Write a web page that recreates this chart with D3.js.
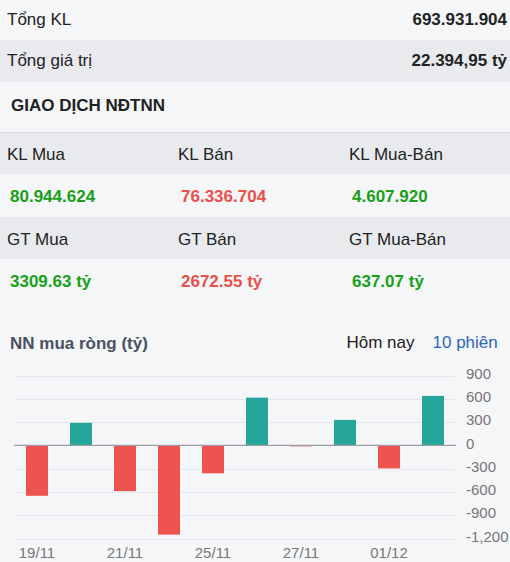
<!DOCTYPE html>
<html><head><meta charset="utf-8">
<script src="https://cdn.jsdelivr.net/npm/d3@7"></script>
<style>
html,body{margin:0;padding:0;background:#f5f6f8;}
svg{display:block;font-family:"Liberation Sans",Arial,sans-serif;}
</style></head>
<body>
<svg id="c" width="510" height="562"></svg>
<script>
// ---- data ----
const summaryLabels = ["Tổng KL", "Tổng giá trị"];
const summaryValues = ["693.931.904", "22.394,95 tỷ"];
const sectionTitle = "GIAO DỊCH NĐTNN";
const volLabels = ["KL Mua", "KL Bán", "KL Mua-Bán"];
const volValues = ["80.944.624", "76.336.704", "4.607.920"];
const valLabels = ["GT Mua", "GT Bán", "GT Mua-Bán"];
const valValues = ["3309.63 tỷ", "2672.55 tỷ", "637.07 tỷ"];
const valueSigns = ["up", "down", "up"];
const chartTitle = "NN mua ròng (tỷ)";
const tabLabels = ["Hôm nay", "10 phiên"];
const dates = ["19/11","20/11","21/11","24/11","25/11","26/11","27/11","28/11","01/12","02/12"];
const netBuy = [-650, 290, -590, -1150, -360, 615, -10, 328, -297, 637.07];
const yTicks = [900, 600, 300, 0, -300, -600, -900, -1200];
const xTickDates = ["19/11","21/11","25/11","27/11","01/12"];

// ---- styles ----
const C = {light:"#f5f6f8", gray:"#e8eaee", text:"#222", green:"#18a018", red:"#e8504a",
  barUp:"#26a69a", barDown:"#ef5350", grid:"#e3e6ea", zero:"#9a9ea4", tick:"#777", title:"#4a5260", blue:"#2e64b8"};

const svg = d3.select("#c");

// row backgrounds
const rows = [
  {y:0, h:40, fill:C.light},
  {y:40, h:42, fill:C.gray},
  {y:82, h:50, fill:C.light},
  {y:133, h:41, fill:C.gray},
  {y:174, h:43, fill:C.light},
  {y:217, h:42, fill:C.gray},
  {y:259, h:303, fill:C.light}
];
svg.selectAll("rect.row").data(rows).join("rect").attr("class","row")
  .attr("x",0).attr("width",510).attr("y",d=>d.y).attr("height",d=>d.h).attr("fill",d=>d.fill);
svg.append("line").attr("x1",0).attr("x2",510).attr("y1",132.5).attr("y2",132.5)
  .attr("stroke","#d6d9de").attr("stroke-width",1);

// summary rows
const sumY = [25, 66];
svg.selectAll("text.sl").data(summaryLabels).join("text").attr("class","sl")
  .attr("x",7).attr("y",(d,i)=>sumY[i]).attr("font-size",17).attr("fill",C.text).text(d=>d);
svg.selectAll("text.sv").data(summaryValues).join("text").attr("class","sv")
  .attr("x",507).attr("y",(d,i)=>sumY[i]).attr("text-anchor","end").attr("font-size",17)
  .attr("font-weight","bold").attr("fill",C.text).text(d=>d);
svg.append("text").attr("x",11).attr("y",111).attr("font-size",17).attr("font-weight","bold")
  .attr("fill",C.text).text(sectionTitle);

// grid table
const colX = [7, 178, 349];
function labelRow(arr, y){
  svg.append("g").selectAll("text").data(arr).join("text")
    .attr("x",(d,i)=>colX[i]).attr("y",y).attr("font-size",17).attr("fill",C.text).text(d=>d);
}
function valueRow(arr, y){
  svg.append("g").selectAll("text").data(arr).join("text")
    .attr("x",(d,i)=>colX[i]+3).attr("y",y).attr("font-size",17).attr("font-weight","bold")
    .attr("fill",(d,i)=>valueSigns[i]==="up"?C.green:C.red).text(d=>d);
}
labelRow(volLabels, 159.5);
valueRow(volValues, 201.5);
labelRow(valLabels, 245);
valueRow(valValues, 286.5);

// chart header
svg.append("text").attr("x",10).attr("y",349).attr("font-size",17).attr("font-weight","bold")
  .attr("fill",C.title).text(chartTitle);
svg.append("text").attr("x",346.5).attr("y",348).attr("font-size",17).attr("fill",C.text).text(tabLabels[0]);
svg.append("text").attr("x",432.5).attr("y",348).attr("font-size",17).attr("fill",C.blue).text(tabLabels[1]);

// scales
const x = d3.scaleBand().domain(dates).range([15,455]).paddingInner(0.5).paddingOuter(0.25);
const y = d3.scaleLinear().domain([-1200, 900]).range([538.5, 375.5]);
const fmt = d3.formatLocale({decimal:".", thousands:",", grouping:[3], currency:["",""], minus:"-"}).format(",");

// gridlines
const g = svg.append("g");
g.selectAll("line.grid").data(yTicks.filter(t=>t!==0)).join("line").attr("class","grid")
  .attr("x1",15).attr("x2",455).attr("y1",d=>Math.round(y(d))+0.5).attr("y2",d=>Math.round(y(d))+0.5)
  .attr("stroke",C.grid).attr("stroke-width",1);

// y axis labels (right)
const yAxis = d3.axisRight(y).tickValues(yTicks).tickFormat(fmt).tickSize(0).tickPadding(0);
const ya = svg.append("g").attr("transform","translate(466,0)").call(yAxis);
ya.select(".domain").remove();
ya.selectAll("text").attr("font-size",15).attr("fill",C.tick)
  .attr("font-family","'Liberation Sans',Arial,sans-serif").attr("dy","0.18em");

// bars
g.selectAll("rect.bar").data(netBuy).join("rect").attr("class","bar")
  .attr("x",(d,i)=>x(dates[i])).attr("width",x.bandwidth())
  .attr("y",d=>y(Math.max(0,d))).attr("height",d=>Math.max(1,Math.abs(y(d)-y(0))))
  .attr("fill",d=>d>=0?C.barUp:C.barDown);

// zero line
g.append("line").attr("x1",14).attr("x2",456).attr("y1",y(0)).attr("y2",y(0))
  .attr("stroke",C.zero).attr("stroke-width",1.2);

// x axis labels
const xAxis = d3.axisBottom(x).tickValues(xTickDates).tickSize(0).tickPadding(0);
const xa = svg.append("g").attr("transform","translate(0,546)").call(xAxis);
xa.select(".domain").remove();
xa.selectAll("text").attr("font-size",15).attr("fill",C.tick)
  .attr("font-family","'Liberation Sans',Arial,sans-serif").attr("dy","0.8em");
</script>
</body></html>
